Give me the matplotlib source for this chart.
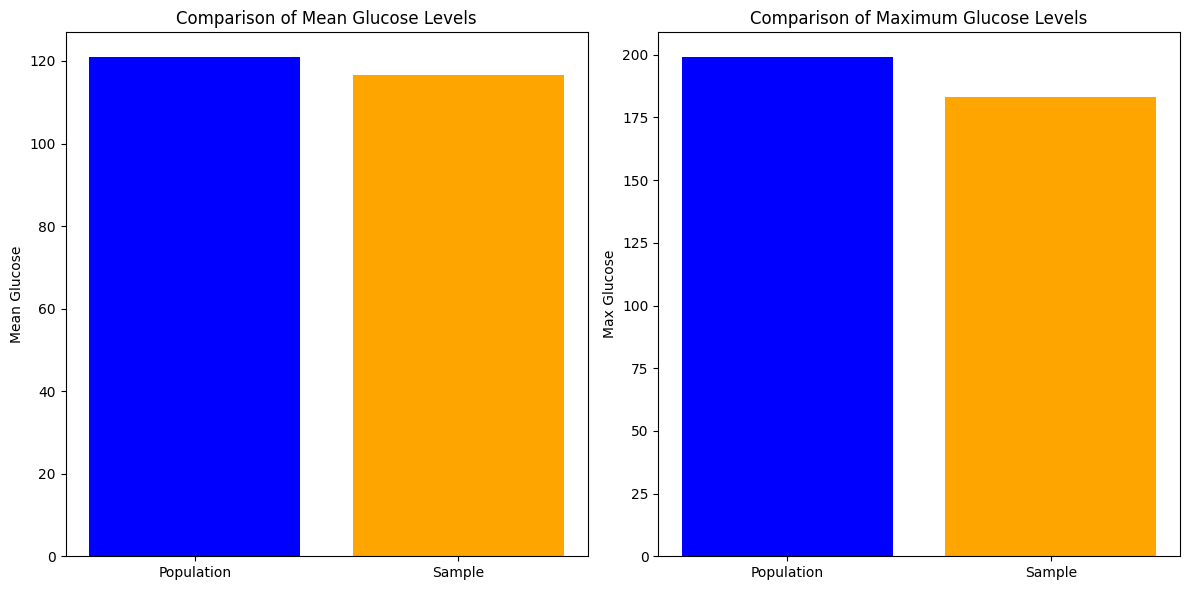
import matplotlib
matplotlib.use("Agg")
import matplotlib.pyplot as plt

# values
groups = ['Population', 'Sample']
mean_glucose = [120.9, 116.6]
max_glucose = [199, 183]
bar_colors = ['blue', 'orange']

fig, (ax1, ax2) = plt.subplots(1, 2, figsize=(12, 6), dpi=100)

ax1.bar(groups, mean_glucose, color=bar_colors)
ax1.set_title('Comparison of Mean Glucose Levels')
ax1.set_ylabel('Mean Glucose')

ax2.bar(groups, max_glucose, color=bar_colors)
ax2.set_title('Comparison of Maximum Glucose Levels')
ax2.set_ylabel('Max Glucose')

plt.tight_layout()
plt.savefig('out.png', bbox_inches='tight')
